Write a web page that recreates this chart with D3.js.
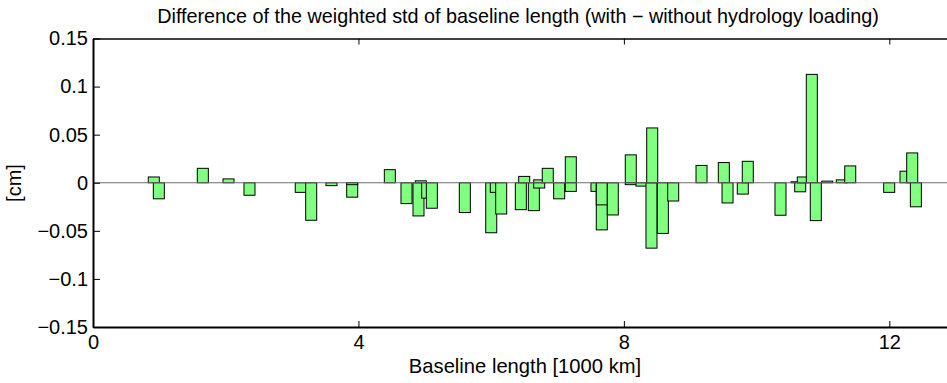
<!DOCTYPE html>
<html><head><meta charset="utf-8">
<script src="https://cdn.jsdelivr.net/npm/d3@7"></script>
<style>
html,body{margin:0;padding:0;background:#fff;}
svg{display:block;font-family:"Liberation Sans",Arial,Helvetica,sans-serif;}
</style></head>
<body>
<svg id="chart" width="947" height="383"></svg>
<script>
// Baseline length [1000 km] (bar centres) and difference of weighted std [cm]
const baselines = [0.916,0.992,1.655,2.042,2.358,3.131,3.288,3.594,3.906,3.906,
  4.473,4.724,4.905,4.940,5.036,5.106,5.603,6.001,6.070,6.151,
  6.447,6.498,6.643,6.724,6.724,6.853,7.025,7.200,7.200,7.587,
  7.667,7.667,7.833,8.104,8.104,8.266,8.416,8.427,8.587,8.743,
  9.170,9.506,9.562,9.792,9.867,10.360,10.601,10.657,10.696,10.832,
  10.892,11.064,11.284,11.411,11.998,12.244,12.345,12.400];
const differences = [0.006,-0.0167,0.015,0.004,-0.013,-0.010,-0.039,-0.003,-0.015,-0.002,
  0.0136,-0.0217,-0.0345,0.002,-0.016,-0.0265,-0.031,-0.052,-0.010,-0.0325,
  -0.028,0.0066,-0.029,0.003,-0.0055,0.015,-0.0167,0.027,-0.009,-0.009,
  -0.049,-0.023,-0.0335,0.029,-0.002,-0.0035,-0.068,0.057,-0.0527,-0.019,
  0.018,0.021,-0.021,-0.0118,0.0223,-0.0338,0.001,-0.0094,0.006,0.1127,
  -0.0394,0.0017,0.003,0.0175,-0.010,0.012,0.031,-0.025];
const xTicks = [0,4,8,12];
const yTicks = [0.15,0.1,0.05,0,-0.05,-0.1,-0.15];
const barWidth = 0.166;

const svg = d3.select("#chart");
const mLeft = 93, mTop = 38.5, mBottom = 327;
const x = d3.scaleLinear().domain([0,13]).range([mLeft, mLeft + 13*66.36]);
const y = d3.scaleLinear().domain([-0.15,0.15]).range([mBottom, mTop]);
const fmt = v => v === 0 ? "0" : String(v).replace("-", "\u2212");

const data = baselines.map((b,i)=>({b, v:differences[i]}));

svg.append("g").selectAll("rect").data(data).join("rect")
  .attr("x", d => x(d.b - barWidth/2))
  .attr("width", d => x(d.b + barWidth/2) - x(d.b - barWidth/2))
  .attr("y", d => y(Math.max(0,d.v)))
  .attr("height", d => Math.abs(y(d.v) - y(0)))
  .attr("fill", "#80ff80").attr("stroke", "#000").attr("stroke-width", 1);

// zero line
svg.append("line").attr("x1", x(0)).attr("x2", 947).attr("y1", y(0)).attr("y2", y(0))
  .attr("stroke", "#6e6e6e").attr("stroke-width", 1.2);

// bottom axis
const xb = svg.append("g").attr("transform", `translate(0,${mBottom})`)
  .call(d3.axisBottom(x).tickValues(xTicks).tickSizeInner(-6).tickSizeOuter(0).tickPadding(8).tickFormat(d3.format("d")));
xb.select(".domain").attr("stroke-width", 2);
xb.selectAll("text").attr("font-size", 20).attr("fill","#000");
// top axis
const xt = svg.append("g").attr("transform", `translate(0,${mTop})`)
  .call(d3.axisTop(x).tickValues(xTicks).tickSizeInner(-6).tickSizeOuter(0).tickFormat(""));
xt.select(".domain").attr("stroke-width", 1.3);
// left axis
const yl = svg.append("g").attr("transform", `translate(${mLeft},0)`)
  .call(d3.axisLeft(y).tickValues(yTicks).tickSizeInner(-7).tickSizeOuter(0).tickPadding(5).tickFormat(fmt));
yl.select(".domain").attr("stroke-width", 2);
yl.selectAll("text").attr("font-size", 20).attr("fill","#000");
svg.selectAll(".tick line").attr("stroke","#000");
svg.selectAll(".domain").attr("stroke","#000");

// title and labels
svg.append("text").attr("x", 518).attr("y", 23).attr("text-anchor","middle")
  .attr("font-size", 19.8).text("Difference of the weighted std of baseline length (with \u2212 without hydrology loading)");
svg.append("text").attr("x", 525).attr("y", 373).attr("text-anchor","middle")
  .attr("font-size", 20.2).text("Baseline length [1000 km]");
svg.append("text").attr("transform", "translate(21,183) rotate(-90)").attr("text-anchor","middle")
  .attr("font-size", 20).text("[cm]");
</script>
</body></html>
